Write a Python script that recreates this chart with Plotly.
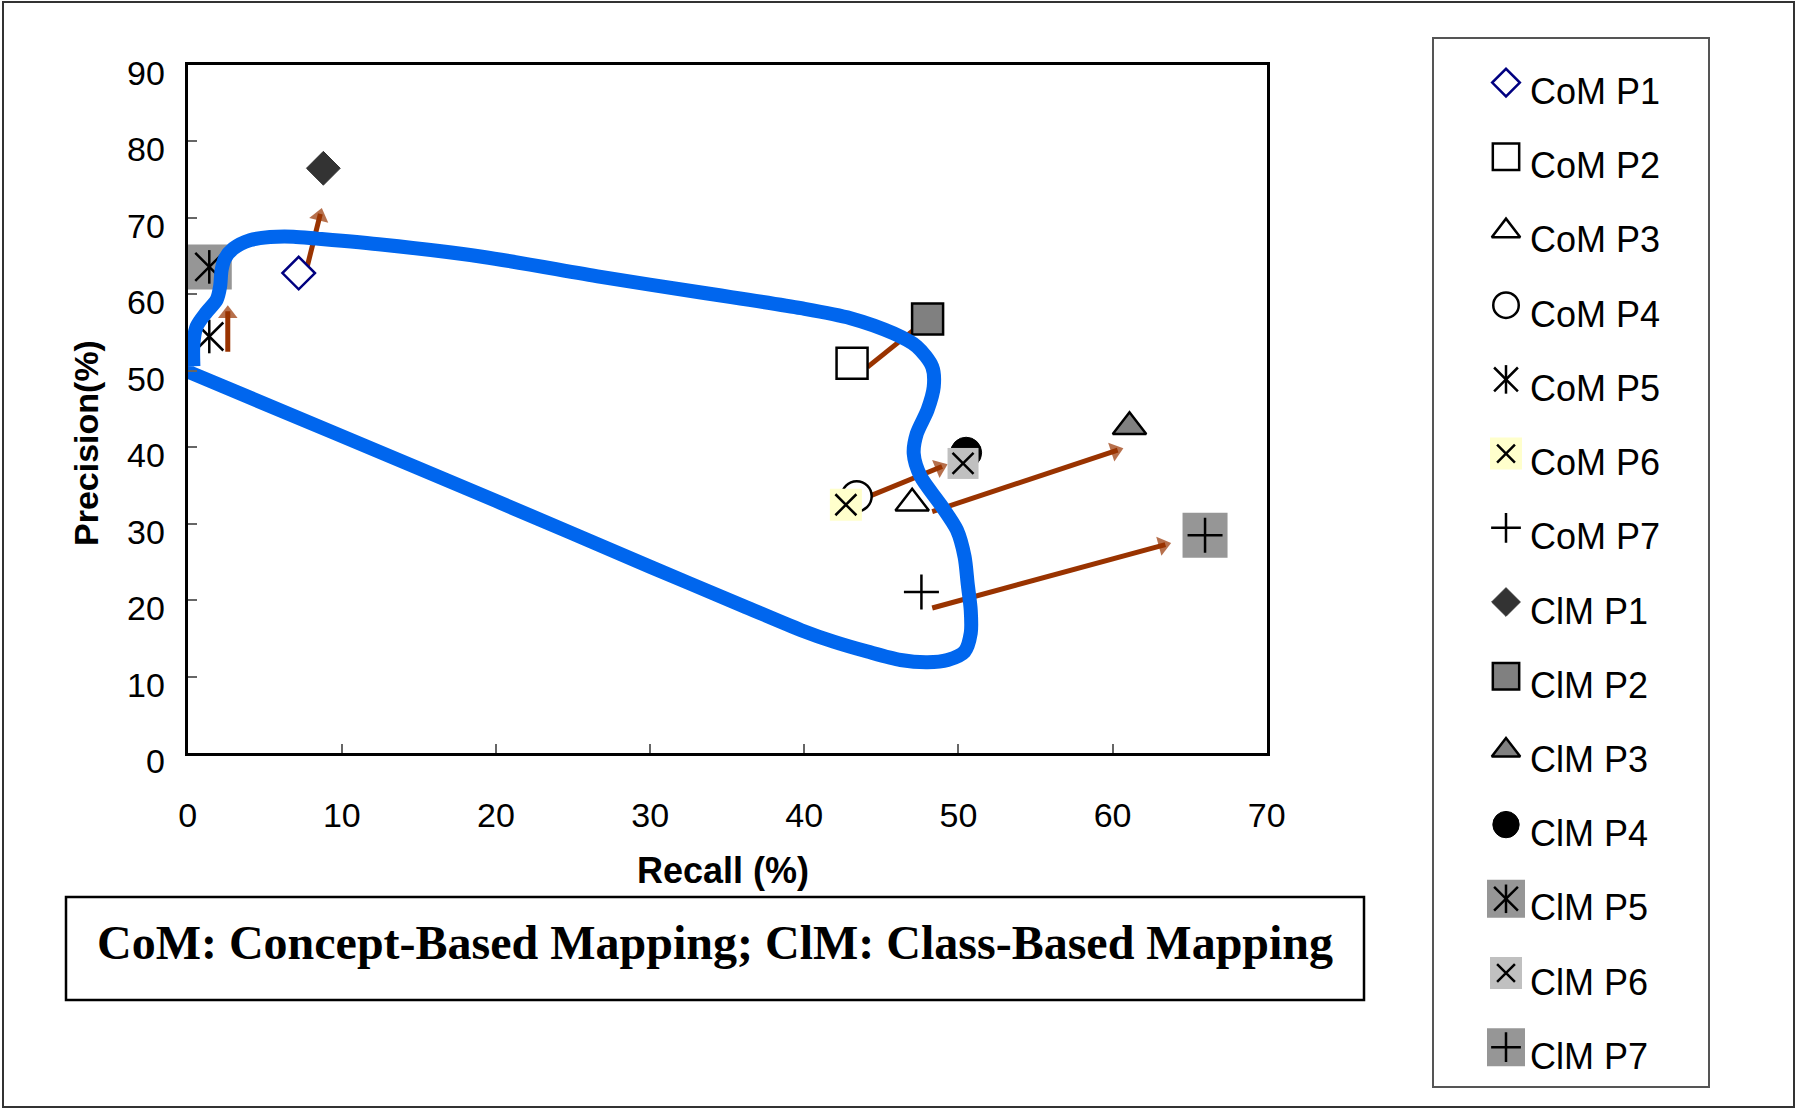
import plotly.graph_objects as go

W, H = 1797, 1110

# ---------------- data ----------------
com_names = ["CoM P1", "CoM P2", "CoM P3", "CoM P4", "CoM P5", "CoM P6", "CoM P7"]
clm_names = ["ClM P1", "ClM P2", "ClM P3", "ClM P4", "ClM P5", "ClM P6", "ClM P7"]
com_recall = [7.2, 43.1, 47.0, 43.4, 1.4, 42.7, 47.6]
com_precision = [62.8, 51.0, 32.7, 33.6, 54.5, 32.5, 21.1]
clm_recall = [8.8, 48.0, 61.1, 50.5, 1.4, 50.3, 66.0]
clm_precision = [76.5, 56.8, 42.7, 39.3, 63.6, 37.9, 28.5]

# arrows (start -> end)
arrow_x0 = [7.7, 44.1, 48.3, 44.2, 2.6, 48.3]
arrow_y0 = [63.2, 50.5, 31.6, 33.6, 52.5, 19.0]
arrow_x1 = [8.7, 48.0, 60.7, 49.3, 2.6, 63.8]
arrow_y1 = [71.3, 56.8, 39.9, 37.8, 58.6, 27.5]

# hand-drawn blue boundary
curve_recall = [-0.45, 9.5, 20.0, 30.0, 36.0, 39.8, 41.9, 44.1, 46.25, 48.0, 49.3, 50.4,
                50.8, 50.8, 50.6, 50.4, 49.9, 48.85, 47.55, 47.1, 47.3, 48.0, 48.4, 48.3,
                47.3, 45.8, 43.0, 39.8, 33.3, 26.8, 19.2, 12.7, 8.38, 6.86, 5.34, 4.05,
                2.96, 2.42, 2.2, 2.1, 1.88, 1.23, 0.58, 0.37, 0.37]
curve_precision = [50.3, 41.9, 33.0, 24.4, 19.3, 16.1, 14.6, 13.3, 12.2, 11.9, 12.2, 13.3,
                   15.7, 18.7, 22.2, 25.7, 29.2, 32.5, 36.2, 39.2, 41.8, 44.9, 47.9, 50.55,
                   53.2, 54.9, 56.9, 58.2, 60.25, 62.3, 64.9, 66.5, 67.3, 67.55, 67.5, 67.1,
                   66.0, 64.7, 63.2, 61.0, 59.3, 57.7, 55.8, 53.6, 50.6]

x_ticks = [0, 10, 20, 30, 40, 50, 60, 70]
y_ticks = [0, 10, 20, 30, 40, 50, 60, 70, 80, 90]

caption = "CoM: Concept-Based Mapping; ClM: Class-Based Mapping"
x_title = "Recall (%)"
y_title = "Precision(%)"

# ---------------- styles ----------------
BLK = "black"
def L(symbol, size, fill, line_color=BLK, lw=2.5):
    return dict(symbol=symbol, size=size, color=fill, line=dict(color=line_color, width=lw))

asterisk = [L("line-ns-open", 24, BLK), L("x-thin-open", 28, BLK)]
styles = [
    [L("diamond", 25, "white", "#000080")],
    [L("square", 31, "white")],
    [L("triangle-up", 29, "white")],
    [L("circle", 30, "white")],
    asterisk,
    [L("square", 32, "#FFFFCC", "#FFFFCC", 0), L("x-thin-open", 21, BLK)],
    [L("cross-thin-open", 25, BLK)],
    [L("diamond", 26, "#333333", "#333333", 1)],
    [L("square", 31, "#808080")],
    [L("triangle-up", 29, "#808080")],
    [L("circle", 31, BLK, BLK, 1)],
    [L("square", 45, "#969696", "#969696", 0)] + asterisk,
    [L("square", 31, "#C0C0C0", "#C0C0C0", 0), L("x-thin-open", 21, BLK)],
    [L("square", 45, "#969696", "#969696", 0), L("cross-thin-open", 25, BLK)],
]

names = com_names + clm_names
xs = com_recall + clm_recall
ys = com_precision + clm_precision

fig = go.Figure()

# arrows (under markers)
ARROW = "#993300"
for i in range(len(arrow_x0)):
    fig.add_trace(go.Scatter(
        x=[arrow_x0[i], arrow_x1[i]], y=[arrow_y0[i], arrow_y1[i]],
        mode="lines+markers", showlegend=False, hoverinfo="skip", cliponaxis=False,
        line=dict(color=ARROW, width=5, backoff=6),
        marker=dict(symbol="triangle-up", size=[0, 17], standoff=[0, 8.5],
                    angleref="previous", color=ARROW, line=dict(width=0)),
    ))

# series markers
for i, nm in enumerate(names):
    for lay in styles[i]:
        fig.add_trace(go.Scatter(
            x=[xs[i]], y=[ys[i]], mode="markers", name=nm, showlegend=False,
            cliponaxis=False, marker=lay,
        ))

# blue curve on top
fig.add_trace(go.Scatter(
    x=curve_recall, y=curve_precision, mode="lines", showlegend=False,
    hoverinfo="skip", cliponaxis=False,
    line=dict(color="#0066EE", width=14, shape="spline", smoothing=0.8),
))

# ---------------- custom legend (own axes, pixel-like units) ----------------
LEG_L, LEG_R, LEG_T, LEG_B = 1433, 1709, 38, 1087
leg_marker_x = 1506
leg_text_x = 1528
leg_top = 82.6
leg_step = 74.2
scale = 0.85
for i, nm in enumerate(names):
    yy = leg_top + i * leg_step
    for lay in styles[i]:
        m = dict(lay)
        if m["symbol"] == "square" and m["line"]["width"] == 0:
            m["size"] = 38 if m["size"] > 40 else 32
        else:
            m["size"] = lay["size"] * scale
        fig.add_trace(go.Scatter(
            x=[leg_marker_x], y=[yy], mode="markers", showlegend=False,
            hoverinfo="skip", marker=m, xaxis="x2", yaxis="y2", cliponaxis=False,
        ))
    fig.add_annotation(x=leg_text_x, y=yy + 9, xref="x2", yref="y2", text=nm,
                       showarrow=False, xanchor="left", yanchor="middle",
                       font=dict(family="Liberation Sans, Arial, sans-serif", size=36, color="black"))

FONT = "Liberation Sans, Arial, sans-serif"
fig.update_layout(
    template="none",
    width=W, height=H,
    margin=dict(l=0, r=0, t=0, b=0, pad=0, autoexpand=False),
    paper_bgcolor="white", plot_bgcolor="white",
    showlegend=False,
    font=dict(family=FONT, color="black"),
    xaxis=dict(domain=[187.7 / W, 1266.7 / W], range=[0, 70], tickvals=x_ticks,
               showline=True, mirror=True, linecolor="black", linewidth=3,
               ticks="inside", ticklen=9, tickwidth=1.5, tickcolor="#666",
               showgrid=False, zeroline=False, tickfont=dict(size=34, family=FONT),
               ticklabelstandoff=30, fixedrange=True, automargin=False),
    yaxis=dict(domain=[1 - 753.3 / H, 1 - 65 / H], range=[0, 90], tickvals=y_ticks,
               showline=True, mirror=True, linecolor="black", linewidth=3,
               ticks="inside", ticklen=9, tickwidth=1.5, tickcolor="#666",
               showgrid=False, zeroline=False, tickfont=dict(size=34, family=FONT),
               ticklabelstandoff=13, ticklabelshift=8, fixedrange=True, automargin=False),
    xaxis2=dict(domain=[LEG_L / W, LEG_R / W], range=[LEG_L, LEG_R], visible=False,
                fixedrange=True, anchor="y2", automargin=False),
    yaxis2=dict(domain=[1 - LEG_B / H, 1 - LEG_T / H], range=[LEG_B, LEG_T], visible=False,
                fixedrange=True, anchor="x2", automargin=False),
)

shapes = [
    dict(type="rect", xref="paper", yref="paper", x0=3 / W, x1=1794 / W,
         y0=1 - 1107 / H, y1=1 - 2 / H, line=dict(color="#333", width=2)),
    dict(type="rect", xref="paper", yref="paper", x0=LEG_L / W, x1=LEG_R / W,
         y0=1 - LEG_B / H, y1=1 - LEG_T / H, line=dict(color="#555", width=2)),
    dict(type="rect", xref="paper", yref="paper", x0=66 / W, x1=1364 / W,
         y0=1 - 1000 / H, y1=1 - 897 / H, line=dict(color="black", width=2.5)),
]
fig.update_layout(shapes=shapes)

fig.add_annotation(x=715 / W, y=1 - 942 / H, xref="paper", yref="paper", text=caption,
                   showarrow=False, xanchor="center", yanchor="middle",
                   font=dict(family="Liberation Serif, Times New Roman, serif", size=48,
                             weight="bold", color="black"))
fig.add_annotation(x=86 / W, y=1 - 443 / H, xref="paper", yref="paper", text=y_title,
                   showarrow=False, textangle=-90, xanchor="center", yanchor="middle",
                   font=dict(family=FONT, size=34, weight="bold", color="black"))
fig.add_annotation(x=723 / W, y=1 - 870 / H, xref="paper", yref="paper", text=x_title,
                   showarrow=False, xanchor="center", yanchor="middle",
                   font=dict(family=FONT, size=36, weight="bold", color="black"))

fig.write_html("out.html", config={"displayModeBar": False},
               post_script="document.body.style.margin='0';document.body.style.overflow='hidden';")
